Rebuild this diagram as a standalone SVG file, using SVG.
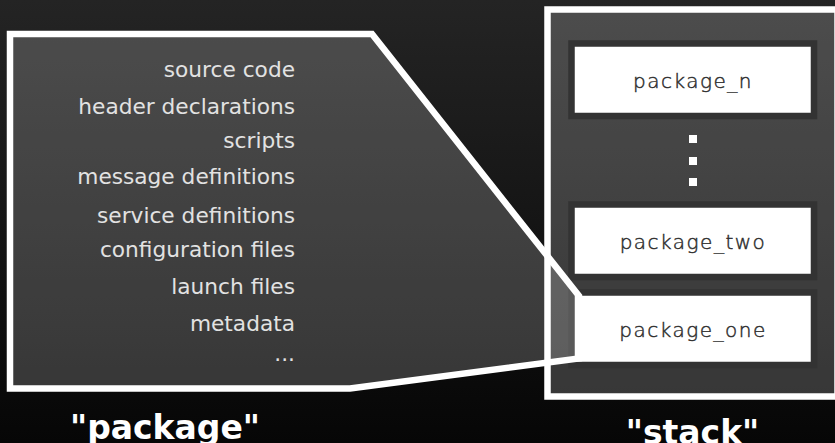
<svg xmlns="http://www.w3.org/2000/svg" width="835" height="443" viewBox="0 0 835 443">
  <defs>
    <linearGradient id="bg" x1="0" y1="0" x2="0" y2="1">
      <stop offset="0" stop-color="#242424"/>
      <stop offset="1" stop-color="#060606"/>
    </linearGradient>
  </defs>
  <style>
    .panel { fill: #ffffff; fill-opacity: 0.19; stroke: #ffffff; stroke-width: 6.5; }
    .pkg rect { fill: #ffffff; stroke: #333333; stroke-width: 6.5; }
    .pkg text { font-family: "DejaVu Sans", sans-serif; font-weight: 200; font-size: 20px; letter-spacing: 1.5px; fill: #2e2e2e; stroke: #2e2e2e; stroke-width: 0.45; text-anchor: middle; }
    .item { font-family: "DejaVu Sans", sans-serif; font-size: 21.7px; fill: #e2e2e2; text-anchor: end; }
    .caption { font-family: "DejaVu Sans", sans-serif; font-weight: bold; font-size: 33px; fill: #ffffff; text-anchor: middle; }
    .dot { fill: #ffffff; }
  </style>

  <rect width="835" height="443" fill="url(#bg)"/>

  <!-- stack frame -->
  <g id="stack">
    <rect class="panel" x="547.5" y="9.5" width="290" height="387"/>
    <g id="package_n" class="pkg">
      <rect x="571.5" y="43.5" width="242.5" height="72.5"/>
      <text x="693" y="87.5">package_n</text>
    </g>
    <g id="ellipsis">
      <rect class="dot" x="689" y="135" width="8" height="8"/>
      <rect class="dot" x="689" y="157" width="8" height="8"/>
      <rect class="dot" x="689" y="178" width="8" height="8"/>
    </g>
    <g id="package_two" class="pkg">
      <rect x="571.5" y="204.5" width="242.5" height="72.5"/>
      <text x="693" y="249">package_two</text>
    </g>
    <g id="package_one" class="pkg">
      <rect x="571.5" y="292.5" width="242.5" height="72.5"/>
      <text x="693" y="337">package_one</text>
    </g>
  </g>

  <!-- expanded package view, fanning out of package_one -->
  <g id="connectors">
    <path class="panel" d="M10,34 L372,34 L579,296 L579,358.5 L350,388.5 L10,388.5 Z"/>
  </g>

  <g id="package">
    <text class="item" x="295" y="77">source code</text>
    <text class="item" x="295" y="114">header declarations</text>
    <text class="item" x="295" y="148">scripts</text>
    <text class="item" x="295" y="184">message definitions</text>
    <text class="item" x="295" y="223">service definitions</text>
    <text class="item" x="295" y="257">configuration files</text>
    <text class="item" x="295" y="294">launch files</text>
    <text class="item" x="295" y="331">metadata</text>
    <text class="item" x="295" y="361">...</text>
  </g>

  <g id="captions">
    <text class="caption" x="165" y="439">"package"</text>
    <text class="caption" x="692.5" y="444">"stack"</text>
  </g>
</svg>
